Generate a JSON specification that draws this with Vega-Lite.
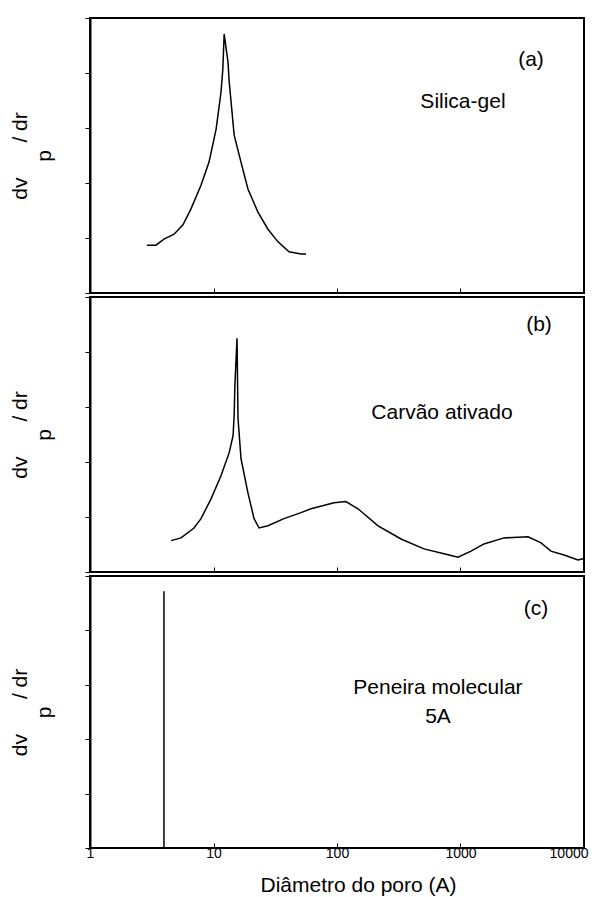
{
  "$schema": "https://vega.github.io/schema/vega-lite/v6.json",
  "padding": {"left": 8, "top": 16, "right": 9, "bottom": 0},
  "spacing": 0,
  "config": {
    "font": "Liberation Sans",
    "view": {"stroke": "black", "strokeWidth": 2},
    "axis": {"grid": false, "domainColor": "black", "tickColor": "black", "labelColor": "black", "titleColor": "black", "labelFont": "Liberation Sans", "titleFont": "Liberation Sans", "titleFontWeight": "normal"},
    "line": {"color": "black", "strokeWidth": 1.5},
    "text": {"color": "black", "font": "Liberation Sans", "fontSize": 21}
  },
  "datasets": {
    "a": [
      {"d": 2.89, "v": 0.87}, {"d": 3.42, "v": 0.87}, {"d": 3.97, "v": 0.98}, {"d": 4.79, "v": 1.07},
      {"d": 5.66, "v": 1.24}, {"d": 6.57, "v": 1.53}, {"d": 7.92, "v": 1.96}, {"d": 9.2, "v": 2.38},
      {"d": 10.5, "v": 2.98}, {"d": 11.5, "v": 3.65}, {"d": 11.9, "v": 4.07}, {"d": 12.2, "v": 4.71},
      {"d": 13.1, "v": 4.2}, {"d": 13.4, "v": 3.84}, {"d": 14.7, "v": 2.87}, {"d": 16.7, "v": 2.38},
      {"d": 19.0, "v": 1.89}, {"d": 22.9, "v": 1.47}, {"d": 27.6, "v": 1.16}, {"d": 33.3, "v": 0.93},
      {"d": 40.9, "v": 0.75}, {"d": 51.1, "v": 0.71}, {"d": 56.1, "v": 0.71}
    ],
    "b": [
      {"d": 4.53, "v": 0.57}, {"d": 5.46, "v": 0.62}, {"d": 6.95, "v": 0.8}, {"d": 7.92, "v": 0.97},
      {"d": 9.55, "v": 1.33}, {"d": 11.5, "v": 1.75}, {"d": 13.4, "v": 2.17}, {"d": 14.4, "v": 2.48},
      {"d": 14.7, "v": 2.85}, {"d": 14.9, "v": 3.39}, {"d": 15.5, "v": 4.25}, {"d": 15.8, "v": 2.79},
      {"d": 16.7, "v": 2.06}, {"d": 19.0, "v": 1.44}, {"d": 21.3, "v": 0.97}, {"d": 23.4, "v": 0.8},
      {"d": 27.6, "v": 0.84}, {"d": 37.2, "v": 0.97}, {"d": 51.1, "v": 1.08}, {"d": 61.6, "v": 1.15},
      {"d": 94.6, "v": 1.26}, {"d": 118, "v": 1.28}, {"d": 148, "v": 1.15}, {"d": 215, "v": 0.84},
      {"d": 330, "v": 0.6}, {"d": 506, "v": 0.42}, {"d": 735, "v": 0.33}, {"d": 955, "v": 0.27},
      {"d": 1216, "v": 0.38}, {"d": 1549, "v": 0.51}, {"d": 2250, "v": 0.62}, {"d": 3520, "v": 0.64},
      {"d": 4490, "v": 0.53}, {"d": 5400, "v": 0.38}, {"d": 6890, "v": 0.31}, {"d": 8940, "v": 0.22},
      {"d": 9820, "v": 0.24}
    ],
    "c": [
      {"d": 3.97, "v": 0}, {"d": 3.97, "v": 4.72}
    ],
    "labels": [
      {"panel": "a", "d": 3720, "v": 4.24, "label": "(a)"},
      {"panel": "a", "d": 1047, "v": 3.47, "label": "Silica-gel"},
      {"panel": "b", "d": 4320, "v": 4.49, "label": "(b)"},
      {"panel": "b", "d": 708, "v": 2.9, "label": "Carvão ativado"},
      {"panel": "c", "d": 4090, "v": 4.39, "label": "(c)"},
      {"panel": "c", "d": 657, "v": 2.94, "label": "Peneira molecular"},
      {"panel": "c", "d": 657, "v": 2.41, "label": "5A"}
    ]
  },
  "vconcat": [
    {
      "width": 494, "height": 275,
      "layer": [
        {
          "data": {"name": "a"},
          "mark": {"type": "line"},
          "encoding": {
            "x": {"field": "d", "type": "quantitative", "scale": {"type": "log", "domain": [1, 10000]},
                  "axis": {"values": [1, 10, 100, 1000, 10000], "labels": false, "title": null, "tickSize": -5, "domain": false}},
            "y": {"field": "v", "type": "quantitative", "scale": {"domain": [0, 5]},
                  "axis": {"values": [0, 1, 2, 3, 4, 5], "labels": false, "tickSize": 5, "domainWidth": 2,
                           "title": ["dv\u00a0\u00a0\u00a0\u00a0\u00a0\u00a0/ dr", "p"], "titleFontSize": 21, "titleLineHeight": 24, "titlePadding": 30}}
          }
        },
        {
          "data": {"name": "labels"},
          "transform": [{"filter": "datum.panel === 'a'"}],
          "mark": {"type": "text", "align": "center", "baseline": "middle"},
          "encoding": {
            "x": {"field": "d", "type": "quantitative"},
            "y": {"field": "v", "type": "quantitative"},
            "text": {"field": "label"}
          }
        }
      ]
    },
    {
      "width": 494, "height": 275,
      "layer": [
        {
          "data": {"name": "b"},
          "mark": {"type": "line"},
          "encoding": {
            "x": {"field": "d", "type": "quantitative", "scale": {"type": "log", "domain": [1, 10000]},
                  "axis": {"values": [1, 10, 100, 1000, 10000], "labels": false, "title": null, "tickSize": -5, "domain": false}},
            "y": {"field": "v", "type": "quantitative", "scale": {"domain": [0, 5]},
                  "axis": {"values": [0, 1, 2, 3, 4, 5], "labels": false, "tickSize": 5, "domainWidth": 2,
                           "title": ["dv\u00a0\u00a0\u00a0\u00a0\u00a0\u00a0/ dr", "p"], "titleFontSize": 21, "titleLineHeight": 24, "titlePadding": 30}}
          }
        },
        {
          "data": {"name": "labels"},
          "transform": [{"filter": "datum.panel === 'b'"}],
          "mark": {"type": "text", "align": "center", "baseline": "middle"},
          "encoding": {
            "x": {"field": "d", "type": "quantitative"},
            "y": {"field": "v", "type": "quantitative"},
            "text": {"field": "label"}
          }
        }
      ]
    },
    {
      "width": 494, "height": 272,
      "layer": [
        {
          "data": {"name": "c"},
          "mark": {"type": "line", "strokeWidth": 1.5},
          "encoding": {
            "x": {"field": "d", "type": "quantitative", "scale": {"type": "log", "domain": [1, 10000]},
                  "axis": {"values": [1, 10, 100, 1000, 10000], "format": "d", "tickSize": -5, "domain": false,
                           "labelFontSize": 14, "labelPadding": 3, "labelFlush": true, "labelFlushOffset": 4,
                           "title": "Diâmetro do poro (A)", "titleFontSize": 21, "titlePadding": 14, "titleX": 268}},
            "y": {"field": "v", "type": "quantitative", "scale": {"domain": [0, 5]},
                  "axis": {"values": [0, 1, 2, 3, 4, 5], "labels": false, "tickSize": 5, "domainWidth": 2,
                           "title": ["dv\u00a0\u00a0\u00a0\u00a0\u00a0\u00a0/ dr", "p"], "titleFontSize": 21, "titleLineHeight": 24, "titlePadding": 30}}
          }
        },
        {
          "data": {"name": "labels"},
          "transform": [{"filter": "datum.panel === 'c'"}],
          "mark": {"type": "text", "align": "center", "baseline": "middle"},
          "encoding": {
            "x": {"field": "d", "type": "quantitative"},
            "y": {"field": "v", "type": "quantitative"},
            "text": {"field": "label"}
          }
        }
      ]
    }
  ]
}
